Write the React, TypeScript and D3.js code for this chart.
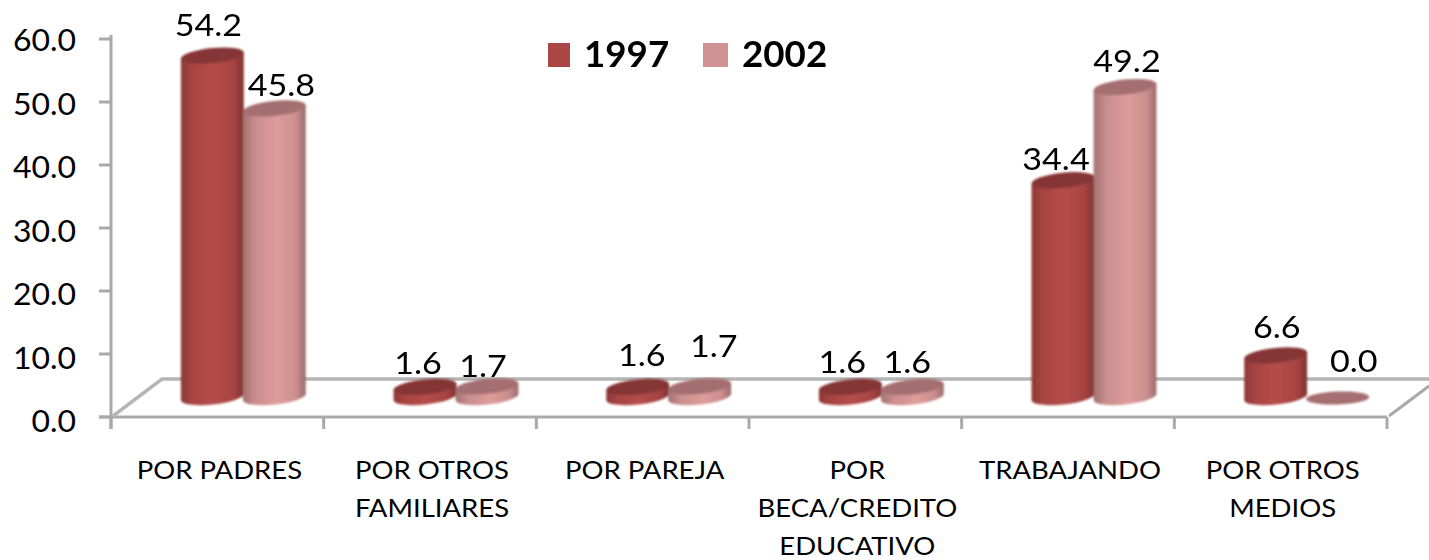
import React from 'react';
import * as d3 from 'd3';

const categories = ['POR PADRES', 'POR OTROS FAMILIARES', 'POR PAREJA', 'POR BECA/CREDITO EDUCATIVO', 'TRABAJANDO', 'POR OTROS MEDIOS'];
const categoryLines = [['POR PADRES'], ['POR OTROS', 'FAMILIARES'], ['POR PAREJA'], ['POR', 'BECA/CREDITO', 'EDUCATIVO'], ['TRABAJANDO'], ['POR OTROS', 'MEDIOS']];
const seriesNames = ['1997', '2002'];
const values1997 = [54.2, 1.6, 1.6, 1.6, 34.4, 6.6];
const values2002 = [45.8, 1.7, 1.7, 1.6, 49.2, 0.0];
const yTicks = [0, 10, 20, 30, 40, 50, 60];

// hand placed label offsets (dx, dy from the top of the cylinder)
const labelNudge1997 = [[-4, -20], [-7, -13], [4, -21], [-8, -14], [-7, -10], [1, -17]];
const labelNudge2002 = [[7, -12], [-4, -9], [14, -29], [-5, -14], [2, -15], [16, -25]];

const W = 1429;
const H = 560;
const FONT = 'Lato, "Open Sans", sans-serif';
const AXIS = '#a9a9a9';
const depthX = 26;
const depthY = -20;
const rx = 31.6;
const ry = 7.5;
const tilt = 6; // degrees
const stretch = 1.1; // the source picture is a bit wider than the font

const x = d3.scaleBand<string>().domain(categories).range([111, 1387]);
const y = d3.scaleLinear().domain([0, 60]).range([417, 39]);
const h = d3.scaleLinear().domain([0, 60]).range([0, 378]);
const inner = d3.scaleBand<string>().domain(seriesNames).range([-62, 62]);

const cosT = Math.cos((tilt * Math.PI) / 180);
const sinT = Math.sin((tilt * Math.PI) / 180);

const Cylinder = ({ cx, value, grad, top }: { cx: number; value: number; grad: string; top: string }) => {
  const base = y(0) + depthY;
  const t = base - h(value);
  const ex = rx * cosT;
  const ey = rx * sinT;
  if (value === 0) {
    return <ellipse cx={cx} cy={base + 1} rx={rx} ry={6.5} fill={top} transform={`rotate(${-tilt / 3} ${cx} ${base})`} />;
  }
  const side = `M${cx - ex},${t + ey} L${cx - ex},${base + ey} A${rx},${ry} ${-tilt} 0 0 ${cx + ex},${base - ey} L${cx + ex},${t - ey} Z`;
  return (
    <g>
      <path d={side} fill={`url(#${grad})`} />
      <ellipse cx={cx} cy={t} rx={rx} ry={ry} fill={top} transform={`rotate(${-tilt} ${cx} ${t})`} />
    </g>
  );
};

const Label = ({ px, py, size, anchor, sx = stretch, weight = 400, children }: any) => (
  <text
    transform={`translate(${px},${py}) scale(${sx},1)`}
    textAnchor={anchor}
    fontSize={size}
    fontWeight={weight}
    fill="#000"
  >
    {children}
  </text>
);

const App = () => {
  const cxOf = (cat: string, s: string) => (x(cat) as number) + x.bandwidth() / 2 + depthX + (inner(s) as number) + inner.bandwidth() / 2;
  const rows = [
    { name: seriesNames[0], values: values1997, grad: 'g97', top: '#853534', nudge: labelNudge1997 },
    { name: seriesNames[1], values: values2002, grad: 'g02', top: '#a56e6f', nudge: labelNudge2002 },
  ];
  const xTicks = [...categories.map(c => x(c) as number), 1387];

  return (
    <svg width={W} height={H} style={{ position: 'absolute', left: 0, top: 0, background: '#fff' }} fontFamily={FONT}>
      <defs>
        <linearGradient id="g97">
          <stop offset="0" stopColor="#8c3735" />
          <stop offset="0.15" stopColor="#a54341" />
          <stop offset="0.5" stopColor="#b54d4a" />
          <stop offset="0.85" stopColor="#a54341" />
          <stop offset="1" stopColor="#7f3230" />
        </linearGradient>
        <linearGradient id="g02">
          <stop offset="0" stopColor="#a37272" />
          <stop offset="0.2" stopColor="#cb8e8e" />
          <stop offset="0.55" stopColor="#de9c9c" />
          <stop offset="0.85" stopColor="#cb8e8e" />
          <stop offset="1" stopColor="#9a6a6a" />
        </linearGradient>
        <filter id="soft" x="-5%" y="-5%" width="110%" height="110%">
          <feGaussianBlur stdDeviation="0.8" />
        </filter>
      </defs>

      <g stroke={AXIS} fill="none" strokeWidth={3}>
        <path d={`M111,${y(60) - 4} V${y(0) + 12}`} />
        <path d={`M99,${y(0)} H1387`} />
        {yTicks.map(t => <path key={t} d={`M99,${y(t)} H111`} />)}
        {xTicks.map((t, i) => <path key={i} d={`M${t},${y(0)} V${y(0) + 12}`} />)}
        <path d={`M113,${y(0) - 1} L162,379 H1429`} strokeWidth={3.5} stroke="#b5b5b5" />
        <path d={`M1389,${y(0) - 1} L1429,386`} />
      </g>

      {yTicks.map(t => (
        <Label key={t} px={76} py={y(t) + 12 + ((60 - t) / 60) * 3} size={31} anchor="end" sx={1.03}>{t.toFixed(1)}</Label>
      ))}

      <g filter="url(#soft)">
        {categories.map((c, i) => rows.map(r => (
          <Cylinder key={c + r.name} cx={cxOf(c, r.name)} value={r.values[i]} grad={r.grad} top={r.top} />
        )))}
      </g>

      {categories.map((c, i) => rows.map(r => (
        <Label
          key={c + r.name}
          px={cxOf(c, r.name) + r.nudge[i][0]}
          py={y(0) + depthY - h(r.values[i]) + r.nudge[i][1]}
          size={31}
          anchor="middle"
        >
          {r.values[i].toFixed(1)}
        </Label>
      )))}

      {categoryLines.map((lines, i) => lines.map((line, j) => (
        <Label
          key={line}
          px={(x(categories[i]) as number) + x.bandwidth() / 2 + 2}
          py={479 + j * 38}
          size={25}
          anchor="middle"
        >
          {line}
        </Label>
      )))}

      <rect x={548} y={43} width={22} height={24} fill="#aa4644" />
      <Label px={584} py={67} size={36} anchor="start" sx={1.02} weight={700}>{seriesNames[0]}</Label>
      <rect x={703} y={43} width={25} height={24} fill="#d09293" />
      <Label px={742} py={67} size={36} anchor="start" sx={1.02} weight={700}>{seriesNames[1]}</Label>
    </svg>
  );
};

export default App;
